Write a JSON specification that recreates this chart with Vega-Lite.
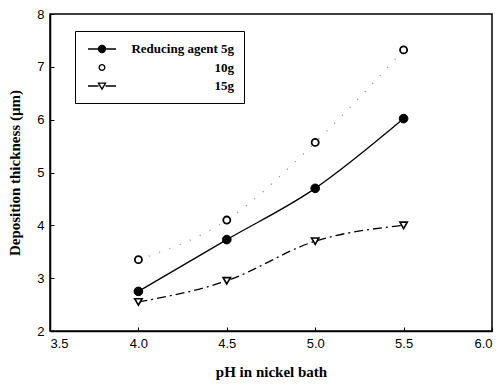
{
  "$schema": "https://vega.github.io/schema/vega-lite/v6.json",
  "width": 442,
  "height": 317,
  "autosize": "none",
  "padding": {"left": 50, "top": 14, "right": 10, "bottom": 54},
  "background": "white",
  "config": {
    "view": {"stroke": "black", "strokeWidth": 1.5},
    "axis": {"grid": false, "domainColor": "black", "domainWidth": 1.5, "tickColor": "black",
      "labelFont": "Liberation Sans", "labelFontSize": 13, "labelColor": "black",
      "titleFont": "Liberation Serif", "titleFontSize": 15, "titleFontWeight": "bold", "titleColor": "black"},
    "legend": {
      "title": null, "orient": "none", "legendX": 25, "legendY": 17,
      "strokeColor": "black", "padding": 10, "rowPadding": 3.5,
      "labelFont": "Liberation Serif", "labelFontWeight": "bold", "labelFontSize": 13, "labelColor": "black",
      "labelAlign": "right", "labelOffset": 124, "symbolSize": 196, "symbolOffset": 9,
      "symbolStrokeColor": "black", "symbolStrokeWidth": 1.3, "symbolOpacity": 1
    }
  },
  "data": {"values": [
    {"ph": 4.0, "t": 2.75, "s": "5g"},
    {"ph": 4.5, "t": 3.73, "s": "5g"},
    {"ph": 5.0, "t": 4.7, "s": "5g"},
    {"ph": 5.5, "t": 6.02, "s": "5g"},
    {"ph": 4.0, "t": 3.35, "s": "10g"},
    {"ph": 4.5, "t": 4.1, "s": "10g"},
    {"ph": 5.0, "t": 5.57, "s": "10g"},
    {"ph": 5.5, "t": 7.32, "s": "10g"},
    {"ph": 4.0, "t": 2.55, "s": "15g"},
    {"ph": 4.5, "t": 2.95, "s": "15g"},
    {"ph": 5.0, "t": 3.7, "s": "15g"},
    {"ph": 5.5, "t": 4.0, "s": "15g"}
  ]},
  "encoding": {
    "x": {"field": "ph", "type": "quantitative", "scale": {"domain": [3.5, 6.0], "nice": false, "zero": false},
      "axis": {"title": "pH in nickel  bath", "values": [3.5, 4.0, 4.5, 5.0, 5.5, 6.0], "format": ".1f",
        "tickSize": -4, "labelPadding": 10, "titlePadding": 14}},
    "y": {"field": "t", "type": "quantitative", "scale": {"domain": [2, 8], "nice": false, "zero": false},
      "axis": {"title": "Deposition thickness (µm)", "values": [2, 3, 4, 5, 6, 7, 8], "format": "d",
        "tickSize": -4, "labelPadding": 10, "titlePadding": 14}}
  },
  "layer": [
    {
      "transform": [{"filter": "datum.s == '5g'"}],
      "mark": {"type": "line", "interpolate": "monotone", "strokeWidth": 1.3, "color": "black"},
      "encoding": {}
    },
    {
      "transform": [{"filter": "datum.s == '10g'"}],
      "mark": {"type": "line", "interpolate": "monotone", "strokeWidth": 1.3, "color": "#888888", "strokeDash": [1, 10]},
      "encoding": {}
    },
    {
      "transform": [{"filter": "datum.s == '15g'"}],
      "mark": {"type": "line", "interpolate": "monotone", "strokeWidth": 1.3, "color": "black", "strokeDash": [9, 4, 2, 4]},
      "encoding": {}
    },
    {
      "transform": [{"filter": "datum.s == '10g'"}],
      "mark": {"type": "point", "shape": "circle", "filled": true, "fill": "white", "stroke": "black", "strokeWidth": 1.8, "opacity": 1, "size": 50},
      "encoding": {}
    },
    {
      "transform": [{"filter": "datum.s == '15g'"}],
      "mark": {"type": "point", "shape": "triangle-down", "filled": true, "fill": "white", "stroke": "black", "strokeWidth": 1.6, "opacity": 1, "size": 55},
      "encoding": {}
    },
    {
      "transform": [{"filter": "datum.s == '5g'"}],
      "mark": {"type": "point", "shape": "circle", "filled": true, "fill": "black", "stroke": "black", "strokeWidth": 1, "opacity": 1, "size": 75},
      "encoding": {}
    },
    {
      "transform": [{"filter": "false"}],
      "mark": {"type": "point", "filled": true, "stroke": "black", "strokeWidth": 1.3, "opacity": 1},
      "encoding": {
        "shape": {"field": "s", "type": "nominal", "scale": {"domain": ["5g", "10g", "15g"],
          "range": [
            "M-2,0L-0.5,0M0.5,0L2,0M-0.5,0A0.5,0.5 0 1,0 0.5,0A0.5,0.5 0 1,0 -0.5,0Z",
            "M-0.4,0A0.4,0.4 0 1,0 0.4,0A0.4,0.4 0 1,0 -0.4,0Z",
            "M-2,0L-0.5,0M0.5,0L2,0M-0.5,-0.4L0.5,-0.4L0,0.45Z"
          ]},
          "legend": {"labelExpr": "datum.value == '5g' ? 'Reducing agent  5g' : datum.value"}},
        "fill": {"field": "s", "type": "nominal", "scale": {"domain": ["5g", "10g", "15g"], "range": ["black", "white", "white"]},
          "legend": {"labelExpr": "datum.value == '5g' ? 'Reducing agent  5g' : datum.value"}},
        "stroke": {"field": "s", "type": "nominal", "scale": {"domain": ["5g", "10g", "15g"], "range": ["black", "black", "black"]},
          "legend": {"labelExpr": "datum.value == '5g' ? 'Reducing agent  5g' : datum.value"}}
      }
    }
  ]
}
